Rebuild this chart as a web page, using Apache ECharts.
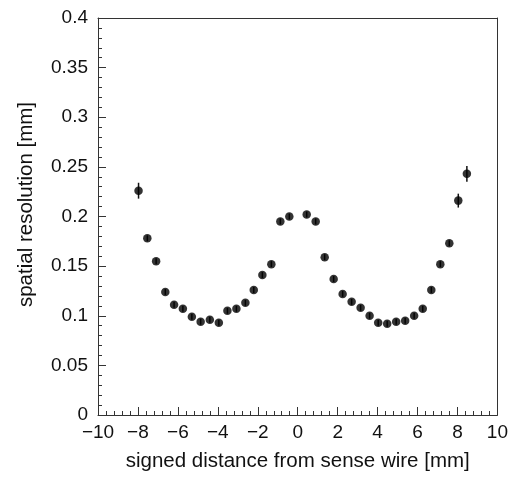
<!DOCTYPE html>
<html>
<head>
<meta charset="utf-8">
<script src="https://cdn.jsdelivr.net/npm/echarts@6/dist/echarts.min.js"></script>
<style>
html,body{margin:0;padding:0;background:#fff;}
#chart{width:511px;height:477px;}
</style>
</head>
<body>
<div id="chart"></div>
<script>
const xValues = [-7.97,-7.53,-7.09,-6.63,-6.19,-5.75,-5.30,-4.86,-4.40,-3.95,-3.52,-3.07,-2.62,-2.20,-1.77,-1.32,-0.87,-0.42,0.45,0.90,1.35,1.80,2.25,2.70,3.15,3.60,4.03,4.48,4.93,5.38,5.83,6.26,6.69,7.14,7.59,8.04,8.47];
const yValues = [0.226,0.178,0.155,0.124,0.111,0.107,0.099,0.094,0.096,0.093,0.105,0.107,0.113,0.126,0.141,0.152,0.195,0.200,0.202,0.195,0.159,0.137,0.122,0.114,0.108,0.100,0.093,0.092,0.094,0.095,0.100,0.107,0.126,0.152,0.173,0.216,0.243];
const yErrors = [0.008,0.003,0.003,0.003,0.003,0.003,0.003,0.003,0.003,0.003,0.003,0.003,0.003,0.003,0.003,0.003,0.003,0.003,0.003,0.003,0.003,0.003,0.003,0.003,0.003,0.003,0.003,0.003,0.003,0.003,0.003,0.003,0.003,0.003,0.003,0.007,0.008];
const xTitle = 'signed distance from sense wire [mm]';
const yTitle = 'spatial resolution [mm]';

const points = xValues.map((x, i) => [x, yValues[i]]);
const errBars = xValues.map((x, i) => [x, yValues[i] - yErrors[i], yValues[i] + yErrors[i]]);

const textColor = '#111';
const lineColor = '#333';
const font = 'Liberation Sans, Arial, Helvetica, sans-serif';

const chart = echarts.init(document.getElementById('chart'), null, {renderer: 'canvas'});
chart.setOption({
  backgroundColor: '#fff',
  animation: false,
  grid: {left: 98, right: 12, top: 18, bottom: 59, containLabel: false},
  xAxis: [{
    type: 'value', min: -10, max: 10, interval: 2,
    axisLine: {show: true, onZero: false, lineStyle: {color: lineColor, width: 1}},
    axisTick: {show: true, inside: true, length: 8, lineStyle: {color: lineColor}},
    minorTick: {show: true, splitNumber: 5, length: 4, lineStyle: {color: lineColor}},
    splitLine: {show: false},
    axisLabel: {color: textColor, fontSize: 19, fontFamily: font, margin: 8,
      formatter: v => (v < 0 ? '\u2212' + Math.abs(v) : String(v))},
    name: xTitle, nameLocation: 'middle', nameGap: 36,
    nameTextStyle: {color: textColor, fontSize: 20.5, fontFamily: font}
  }, {
    type: 'value', min: -10, max: 10, position: 'top',
    axisLine: {show: true, onZero: false, lineStyle: {color: lineColor, width: 1}},
    axisTick: {show: false}, axisLabel: {show: false}, splitLine: {show: false}
  }],
  yAxis: [{
    type: 'value', min: 0, max: 0.4, interval: 0.05,
    axisLine: {show: true, onZero: false, lineStyle: {color: lineColor, width: 1}},
    axisTick: {show: true, inside: true, length: 8, lineStyle: {color: lineColor}},
    minorTick: {show: true, splitNumber: 5, length: 4, lineStyle: {color: lineColor}},
    splitLine: {show: false},
    axisLabel: {color: textColor, fontSize: 19, fontFamily: font, margin: 10,
      formatter: v => String(Math.round(v * 100) / 100)},
    name: yTitle, nameLocation: 'middle', nameGap: 61, nameRotate: 90,
    nameTextStyle: {color: textColor, fontSize: 20.5, fontFamily: font, padding: [0, 0, 0, 24]}
  }, {
    type: 'value', min: 0, max: 0.4, position: 'right',
    axisLine: {show: true, onZero: false, lineStyle: {color: lineColor, width: 1}},
    axisTick: {show: false}, axisLabel: {show: false}, splitLine: {show: false}
  }],
  series: [{
    type: 'custom',
    data: errBars,
    renderItem: function (params, api) {
      const p1 = api.coord([api.value(0), api.value(1)]);
      const p2 = api.coord([api.value(0), api.value(2)]);
      return {type: 'line', shape: {x1: p1[0], y1: p1[1], x2: p2[0], y2: p2[1]},
        style: {stroke: '#111', lineWidth: 1.5}};
    },
    z: 1
  }, {
    type: 'scatter',
    data: points,
    symbol: 'circle',
    symbolSize: 8.5,
    itemStyle: {color: '#000'},
    z: 2
  }]
});
</script>
</body>
</html>
